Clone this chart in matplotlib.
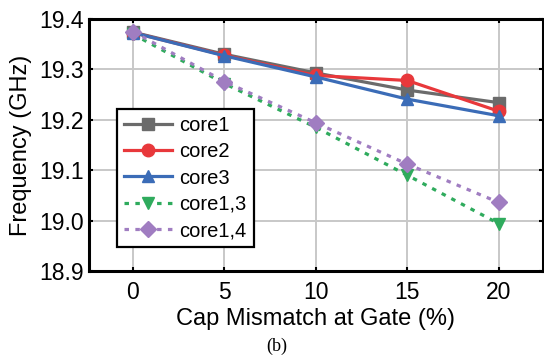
import numpy as np
import matplotlib.pyplot as plt

plt.rcParams['font.family'] = ['Liberation Sans', 'DejaVu Sans']

# cap mismatch at gate (%)
mismatch = [0, 5, 10, 15, 20]

# oscillation frequency (GHz) per configuration
core1 = [19.374, 19.330, 19.293, 19.259, 19.234]
core2 = [19.373, 19.328, 19.288, 19.278, 19.217]
core3 = [19.373, 19.327, 19.285, 19.241, 19.208]
core13 = [19.370, 19.272, 19.185, 19.090, 18.994]
core14 = [19.375, 19.276, 19.194, 19.112, 19.036]

series = [
    ('core1', core1, '#6b6b6b', 's', '-'),
    ('core2', core2, '#e8383b', 'o', '-'),
    ('core3', core3, '#3b6cb7', '^', '-'),
    ('core1,3', core13, '#2fab5d', 'v', (0, (1.4, 2.0))),
    ('core1,4', core14, '#a07dc1', 'D', (0, (1.4, 2.0))),
]

fig = plt.figure(figsize=(5.44, 3.56), dpi=100)
ax = fig.add_axes([0.1636, 0.2388, 0.834, 0.7078])

for name, vals, col, mk, ls in series:
    ax.plot(mismatch, vals, color=col, marker=mk, linestyle=ls, lw=2.3,
            ms=9 if mk != 'D' else 8, label=name)

ax.set_xlim(-2.4, 22.4)
ax.set_ylim(18.9, 19.4)
ax.set_xticks(mismatch)
ax.set_yticks(np.arange(18.9, 19.41, 0.1))
ax.set_yticklabels([f"{v:.1f}" for v in np.arange(18.9, 19.41, 0.1)])
ax.grid(True, color='#c8c8c8', lw=1.4)
ax.set_axisbelow(True)
ax.tick_params(direction='in', length=3, width=1.5, labelsize=16.5,
               top=True, right=True)
ax.tick_params(axis='x', pad=7)
ax.tick_params(axis='y', pad=4)
for sp in ax.spines.values():
    sp.set_linewidth(2.2)

ax.set_xlabel("Cap Mismatch at Gate (%)", fontsize=17, labelpad=3)
ax.set_ylabel("Frequency (GHz)", fontsize=17, labelpad=5)

leg = ax.legend(loc='lower left', bbox_to_anchor=(0.0615, 0.095),
                borderaxespad=0, fontsize=14.5, handlelength=2.4,
                fancybox=False, framealpha=1, edgecolor='black',
                borderpad=0.35, labelspacing=0.36, handletextpad=0.35)
leg.get_frame().set_linewidth(1.6)

fig.text(0.509, 0.027, "(b)", family='Liberation Serif', fontsize=13,
         ha='center', va='center')

fig.savefig('out.png', dpi=100)
